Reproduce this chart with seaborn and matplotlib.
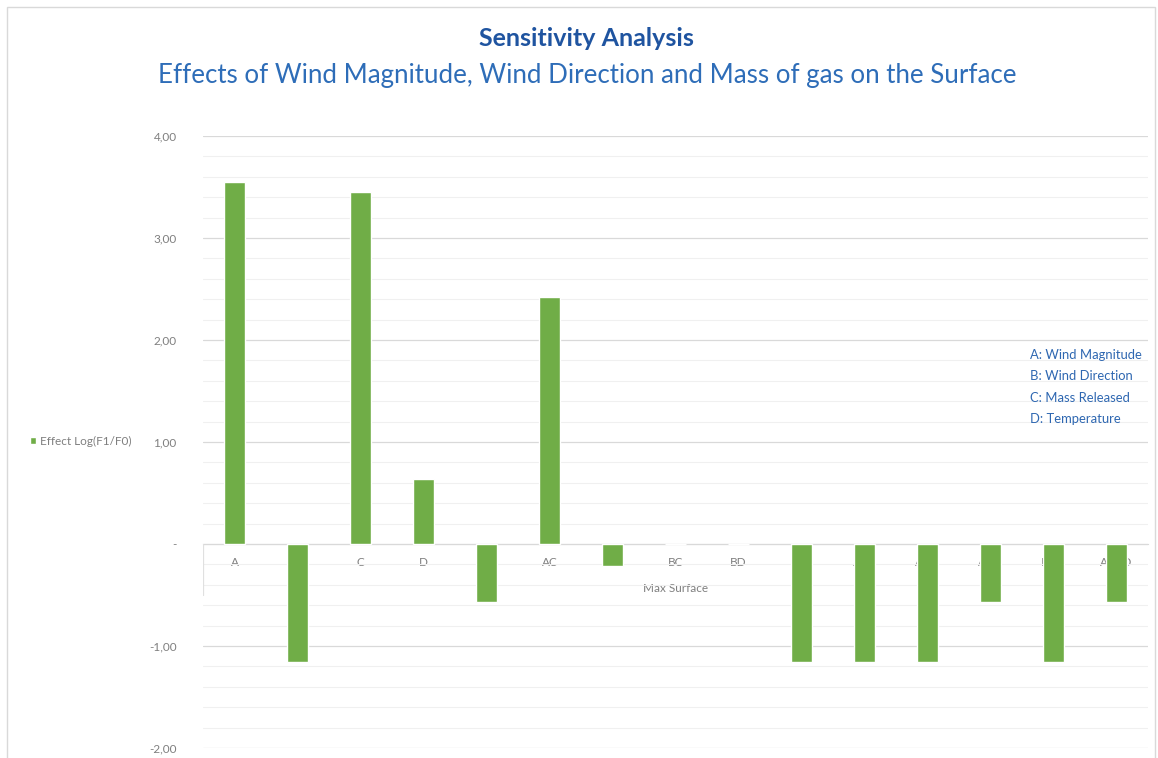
import matplotlib
matplotlib.use("Agg")
import matplotlib.pyplot as plt
import matplotlib.patches as mpatches
from matplotlib.ticker import FuncFormatter, MultipleLocator
import pandas as pd
import seaborn as sns

# data
factors = ["A", "B", "C", "D", "AB", "AC", "AD", "BC", "BD",
           "CD", "ABC", "ABD", "ACD", "BCD", "ABCD"]
effects = [3.55, -1.16, 3.45, 0.64, -0.57, 2.42, -0.22, 0.0, 0.0,
           -1.16, -1.16, -1.16, -0.57, -1.16, -0.57]
key_lines = ["A: Wind Magnitude", "B: Wind Direction",
             "C: Mass Released", "D: Temperature"]

sns.set_style("white")
plt.rcParams['font.family'] = ['Lato', 'DejaVu Sans']

green = '#70AD47'
grey_txt = '#7F7F7F'

df = pd.DataFrame({"factor": factors, "effect": effects})

fig = plt.figure(figsize=(11.58, 7.58), dpi=100)
ax = fig.add_axes([203 / 1158, 1 - 748 / 758, 945 / 1158, 612 / 758])

sns.barplot(data=df, x="factor", y="effect", color=green, width=0.33,
            saturation=1, ax=ax, label="Effect Log(F1/F0)", zorder=3)

ax.set_xlim(-0.5, len(factors) - 0.5)
ax.set_ylim(-2, 4)
ax.yaxis.set_major_locator(MultipleLocator(1))
ax.yaxis.set_minor_locator(MultipleLocator(0.2))
ax.grid(axis='y', which='major', color='#D9D9D9', lw=0.9, zorder=0)
ax.grid(axis='y', which='minor', color='#F0F0F0', lw=0.8, zorder=0)

for s in ['top', 'right', 'left']:
    ax.spines[s].set_visible(False)
ax.spines['bottom'].set_position(('data', 0))
ax.spines['bottom'].set_color('#D9D9D9')
ax.spines['bottom'].set_zorder(1)
ax.axvline(-0.5, ymin=1.5 / 6, ymax=2 / 6, color='#E0E0E0', lw=0.9)

ax.yaxis.set_major_formatter(FuncFormatter(
    lambda v, p: "-" if abs(v) < 1e-9 else f"{v:.2f}".replace(".", ",")))
ax.tick_params(axis='y', which='both', length=0, pad=19, labelsize=8.5,
               labelcolor=grey_txt)
ax.tick_params(axis='x', length=0, pad=9, labelsize=8.5, labelcolor=grey_txt)
ax.set_xlabel("Max Surface", fontsize=8.5, color=grey_txt, labelpad=11)
ax.set_ylabel("")

ax.legend(loc='center left', bbox_to_anchor=(-178 / 945, 1 - (441 - 136) / 612),
          frameon=False, fontsize=8.5, labelcolor=grey_txt, handlelength=0.5,
          handleheight=0.5, handletextpad=0.4, borderaxespad=0)

for i, line in enumerate(key_lines):
    fig.text(1030 / 1158, 1 - (355 + 21.5 * i) / 758, line, fontsize=9.4,
             color='#2E67B1', va='center', ha='left')

fig.text(586 / 1158, 1 - 38 / 758, "Sensitivity Analysis", fontsize=18,
         fontweight='bold', color='#1F54A0', ha='center', va='center')
fig.text(587 / 1158, 1 - 75 / 758,
         "Effects of Wind Magnitude, Wind Direction and Mass of gas on the Surface",
         fontsize=18.6, color='#2E6DB8', ha='center', va='center')

fig.patches.append(mpatches.Rectangle((7 / 1158, -0.05), 1148 / 1158, 1.05 - 7 / 758,
                                      transform=fig.transFigure, fill=False,
                                      edgecolor='#D9D9D9', lw=1))

fig.savefig("out.png", dpi=100)
